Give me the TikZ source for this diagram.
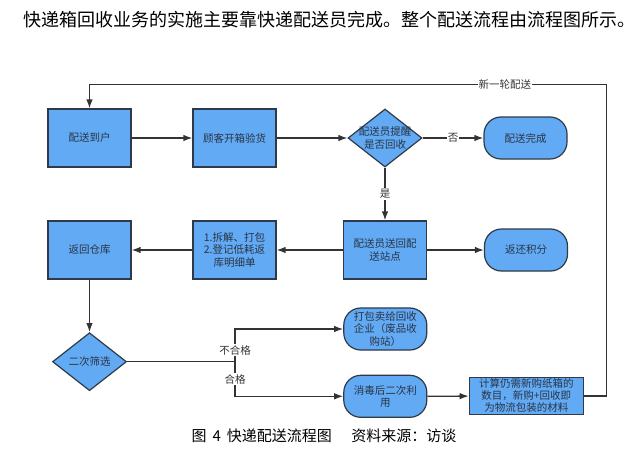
\documentclass[tikz,border=0pt]{standalone}
\usepackage{fontspec}
\newfontfamily\cjk{Noto Sans CJK SC}
\usetikzlibrary{shapes.geometric,arrows.meta}
\definecolor{boxfill}{HTML}{62AAF4}
\definecolor{boxline}{HTML}{2E3A48}
\definecolor{linec}{HTML}{333333}
\definecolor{txt}{HTML}{2A3444}
\begin{document}
\begin{tikzpicture}[x=1pt,y=-1pt,
  every node/.style={font=\cjk\fontsize{10.5}{12.5}\selectfont, text=txt},
  sqbox/.style={draw=boxline, line width=1.2pt, fill=boxfill, minimum width=83pt, minimum height=58pt, inner sep=1pt, align=center},
  rbox/.style={draw=boxline, line width=1.2pt, fill=boxfill, rounded corners=17pt, minimum width=83pt, minimum height=42pt, inner sep=1pt, align=center},
  dia/.style={diamond, draw=boxline, line width=1.2pt, fill=boxfill, minimum width=74pt, minimum height=58pt, inner sep=0pt},
  conn/.style={draw=linec, line width=1.3pt, -{Latex[length=9pt,width=6.5pt]}},
  plain/.style={draw=linec, line width=1.3pt},
  lab/.style={fill=white, inner sep=1pt, text=linec}
]
\useasboundingbox (0,0) rectangle (640,455);
\fill[white] (0,0) rectangle (640,455);

\node[font=\cjk\fontsize{18}{21}\selectfont, text=black, anchor=west] (title) at (20,20) {快递箱回收业务的实施主要靠快递配送员完成。整个配送流程由流程图所示。};

\node[sqbox] (a) at (89.5,138) {配送到户};
\node[sqbox] (b) at (234.5,138) {顾客开箱验货};
\node[dia, label={[align=center, font=\cjk\fontsize{10.5}{12.5}\selectfont, text=txt]center:配送员提醒\\是否回收}] (d) at (385,138) {};
\node[rbox] (e) at (525.5,138) {配送完成};

\node[sqbox] (f) at (385,250) {配送员送回配\\送站点};
\node[rbox] (g) at (526,250) {返还积分};
\node[sqbox] (h) at (234.5,250) {1.拆解、打包\\2.登记低耗返\\库明细单};
\node[sqbox] (i) at (89.5,250) {返回仓库};

\node[dia, label={[font=\cjk\fontsize{10.5}{12.5}\selectfont, text=txt]center:二次筛选}] (j) at (89.5,361.7) {};
\node[rbox] (k) at (385.3,329) {打包卖给回收\\企业（废品收\\购站）};
\node[rbox] (l) at (385.3,396.3) {消毒后二次利\\用};
\node[draw=boxline, line width=1.2pt, fill=boxfill, minimum width=114pt, minimum height=37pt, inner sep=0pt, align=center, font=\cjk\fontsize{10.5}{12}\selectfont] (m) at (526.3,396) {计算仍需新购纸箱的\\数目，新购+回收即\\为物流包装的材料};

\coordinate (split) at (235,361.7);
\coordinate (r1) at (606.7,396);
\coordinate (r2) at (606.7,84.3);
\coordinate (r3) at (89.5,84.3);

\draw[conn] (a) -- (b);
\draw[conn] (b) -- (d);
\draw[conn] (d) -- node[lab, pos=0.5] {否} (e);
\draw[conn] (d) -- node[lab, pos=0.5] {是} (f);
\draw[conn] (f) -- (g);
\draw[conn] (f) -- (h);
\draw[conn] (h) -- (i);
\draw[conn] (i) -- (j);
\draw[plain] (j.east) -- (split);
\draw[conn] (split) -- node[lab, pos=0.35] {不合格} (split |- k.west) -- (k.west);
\draw[conn] (split) -- node[lab, pos=0.5] {合格} (split |- l.west) -- (l.west);
\draw[conn] (l) -- (m);
\draw[conn] (m.east) -- (r1) -- (r2) -- node[lab, pos=0.197] {新一轮配送} (r3) -- (a.north);

\node[font=\cjk\fontsize{15}{18}\selectfont, text=black, anchor=west] (cap) at (188,436) {图\hspace{0.4em}4\hspace{0.4em}快递配送流程图\hspace{1.3em}资料来源：访谈};
\end{tikzpicture}
\end{document}
